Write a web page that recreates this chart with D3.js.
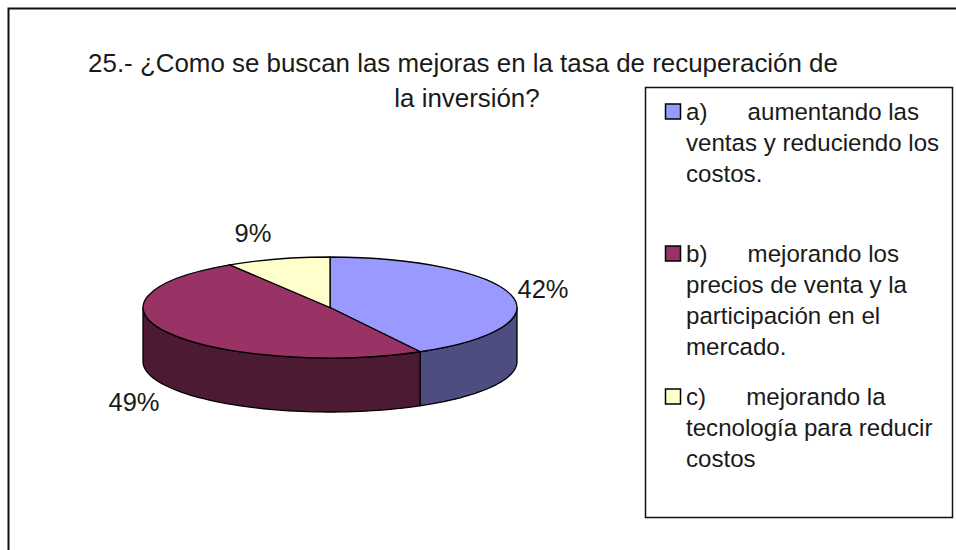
<!DOCTYPE html>
<html><head><meta charset="utf-8">
<script src="https://cdn.jsdelivr.net/npm/d3@7"></script>
<style>html,body{margin:0;padding:0;background:#fff}svg{display:block}text{font-family:"Liberation Sans",Arial,sans-serif;fill:#1a1a1a}</style>
</head><body><svg id="c" width="956" height="550"></svg>
<script>
const titleLines = ["25.- ¿Como se buscan las mejoras en la tasa de recuperación de","la inversión?"];
const values = [42, 49, 9];
const labels = ["42%", "49%", "9%"];
const topColors = ["#9999ff", "#993366", "#ffffcc"];
const sideColors = ["#4d4d80", "#4d1a33", "#808066"];
const legendLines = [
  ["a)      aumentando las", "ventas y reduciendo los", "costos."],
  ["b)      mejorando los", "precios de venta y la", "participación en el", "mercado."],
  ["c)      mejorando la", "tecnología para reducir", "costos"]
];
const legendTops = [112, 254, 397];

const svg = d3.select("#c");
const cx = 330, cy = 307.5, rx = 187, ry = 50.5, depth = 54;

// frame
svg.append("path").attr("d","M8.5,550V8.5H956").attr("fill","none").attr("stroke","#111").attr("stroke-width",2);

// title
svg.append("g").selectAll("text").data(titleLines).join("text")
  .attr("x",(d,i)=>i?467:463).attr("y",(d,i)=>72+i*35).attr("text-anchor","middle")
  .attr("font-size",25.9).text(d=>d);

// pie
const pie = d3.pie().sort(null).value(d=>d)(values);
const px = a => cx + rx*Math.sin(a), py = a => cy - ry*Math.cos(a);
const g = svg.append("g");
const half = Math.PI/2, lim = 3*Math.PI/2;
pie.forEach((s,i)=>{
  const a0 = Math.max(s.startAngle,half), a1 = Math.min(s.endAngle,lim);
  if(a1<=a0) return;
  const top = d3.range(0,61).map(k=>a0+(a1-a0)*k/60).map(a=>[px(a),py(a)]);
  const bottom = top.map(([x,y])=>[x,y+depth]).reverse();
  g.append("path").attr("d",d3.line()(top.concat(bottom))+"Z")
    .attr("fill",sideColors[i]).attr("stroke","#000").attr("stroke-width",1.3);
});
const arc = d3.arc().innerRadius(0).outerRadius(rx);
g.selectAll("path.top").data(pie).join("path").attr("class","top")
  .attr("d",arc).attr("transform",`translate(${cx},${cy}) scale(1,${ry/rx})`)
  .attr("fill",(d,i)=>topColors[i]).attr("stroke","#000").attr("stroke-width",1.3)
  .attr("vector-effect","non-scaling-stroke");

// data labels
const labelPos = [[543,298],[134,411],[253,242]];
svg.append("g").selectAll("text").data(labels).join("text")
  .attr("x",(d,i)=>labelPos[i][0]).attr("y",(d,i)=>labelPos[i][1]).attr("text-anchor","middle")
  .attr("font-size",25.5).text(d=>d);

// legend
svg.append("rect").attr("x",645.5).attr("y",87.5).attr("width",307).attr("height",430)
  .attr("fill","#fff").attr("stroke","#111").attr("stroke-width",1.5);
legendLines.forEach((lines,i)=>{
  svg.append("rect").attr("x",665.5).attr("y",legendTops[i]-8).attr("width",15).attr("height",15)
    .attr("fill",topColors[i]).attr("stroke","#000").attr("stroke-width",1.5);
  svg.append("g").selectAll("text").data(lines).join("text")
    .attr("x",686).attr("y",(d,j)=>legendTops[i]+8+j*31).attr("font-size",24.1)
    .style("white-space","pre").text(d=>d);
});
</script></body></html>
